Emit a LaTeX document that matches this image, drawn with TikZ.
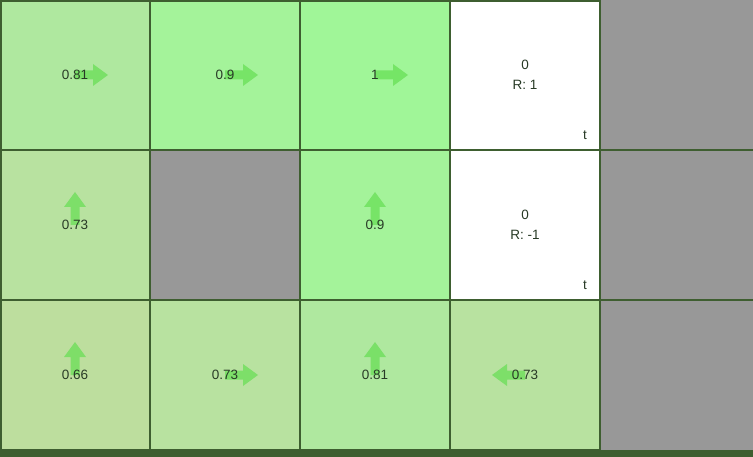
\documentclass[tikz,border=0pt]{standalone}
\usepackage{fontspec}
\setmainfont{Liberation Sans}
\definecolor{gridc}{RGB}{62,94,48}
\definecolor{grayc}{RGB}{152,152,152}
\definecolor{textc}{RGB}{40,58,38}
\definecolor{arrowc}{RGB}{100,222,82}
\definecolor{vA}{RGB}{160,246,152}% 1
\definecolor{vB}{RGB}{164,243,154}% 0.9
\definecolor{vC}{RGB}{175,232,159}% 0.81
\definecolor{vD}{RGB}{184,226,160}% 0.73
\definecolor{vE}{RGB}{189,222,158}% 0.66
\tikzset{
  valtxt/.style={text=textc, font=\fontsize{13.5}{16}\selectfont, inner sep=0pt, anchor=center},
  blockarrow/.style={fill=arrowc, fill opacity=0.7, draw=none},
  gridline/.style={draw=gridc, line width=2.4pt},
  thinline/.style={draw=gridc, line width=1.4pt}
}
\newcommand{\gwarr}[3]{%
  \fill[blockarrow, shift={(#1,#2)}, rotate=#3]
    (0,-4.5) -- (18,-4.5) -- (18,-11) -- (33,0) -- (18,11) -- (18,4.5) -- (0,4.5) -- cycle;}
\begin{document}
\begin{tikzpicture}[x=1pt,y=-1pt]
\useasboundingbox (0,0) rectangle (753,457);
% cell fills
\fill[vC] (0,0) rectangle (150,150);
\fill[vB] (150,0) rectangle (300,150);
\fill[vA] (300,0) rectangle (450,150);
\fill[white] (450,0) rectangle (600,150);
\fill[grayc] (600,0) rectangle (753,450);
\fill[vD] (0,150) rectangle (150,300);
\fill[grayc] (150,150) rectangle (300,300);
\fill[vB] (300,150) rectangle (450,300);
\fill[white] (450,150) rectangle (600,300);
\fill[vE] (0,300) rectangle (150,450);
\fill[vD] (150,300) rectangle (300,450);
\fill[vC] (300,300) rectangle (450,450);
\fill[vD] (450,300) rectangle (600,450);
\fill[gridc] (0,450) rectangle (753,457);
% grid lines
\draw[thinline] (600,150) -- (753,150);
\draw[thinline] (600,300) -- (753,300);
\draw[thinline] (600,0) -- (600,450);
\foreach \yy in {0.5,150,300,450} \draw[gridline] (0,\yy) -- (600,\yy);
\foreach \xx in {0.5,150,300,450} \draw[gridline] (\xx,0) -- (\xx,451);
% arrows
\gwarr{75}{75}{0}
\gwarr{225}{75}{0}
\gwarr{375}{75}{0}
\gwarr{75}{225}{90}
\gwarr{375}{225}{90}
\gwarr{75}{375}{90}
\gwarr{225}{375}{0}
\gwarr{375}{375}{90}
\gwarr{525}{375}{180}
% values
\node[valtxt] (v00) at (75,75) {0.81};
\node[valtxt] (v10) at (225,75) {0.9};
\node[valtxt] (v20) at (375,75) {1};
\node[valtxt] (v30) at (525,65) {0};
\node[valtxt] (r30) at (525,85) {R: 1};
\node[valtxt] (t30) at (585,135) {t};
\node[valtxt] (v01) at (75,225) {0.73};
\node[valtxt] (v21) at (375,225) {0.9};
\node[valtxt] (v31) at (525,215) {0};
\node[valtxt] (r31) at (525,235) {R: -1};
\node[valtxt] (t31) at (585,285) {t};
\node[valtxt] (v02) at (75,375) {0.66};
\node[valtxt] (v12) at (225,375) {0.73};
\node[valtxt] (v22) at (375,375) {0.81};
\node[valtxt] (v32) at (525,375) {0.73};
\end{tikzpicture}
\end{document}
